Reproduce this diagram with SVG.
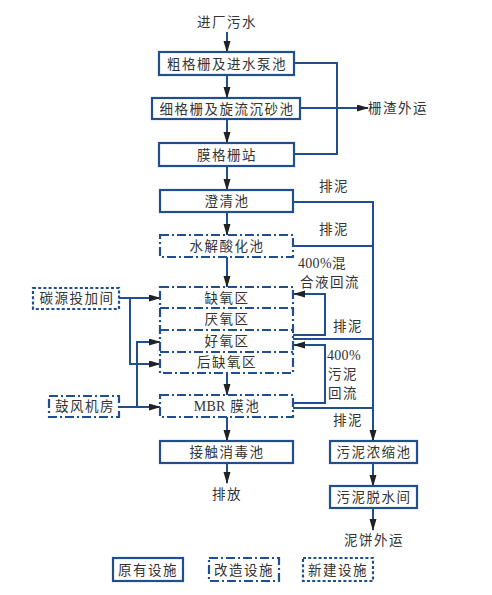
<svg xmlns="http://www.w3.org/2000/svg" width="492" height="595" viewBox="0 0 492 595">
<style>
.b{fill:#fff;stroke:#1f4f8f;stroke-width:2.2}
.dd{stroke-dasharray:9 3 2 3}
.dt{stroke-dasharray:3 2.2}
.w{fill:none;stroke:#1f4f8f;stroke-width:2}
.a{marker-end:url(#ah)}
text{font-family:"Noto Sans CJK SC","Liberation Serif",serif;font-size:13.5px;fill:#333;letter-spacing:1.5px;text-anchor:middle}
.l{text-anchor:start}
.m{font-family:"Liberation Serif","Noto Sans CJK SC",serif;font-size:14px;letter-spacing:0.3px}
</style>
<defs>
<marker id="ah" markerUnits="userSpaceOnUse" markerWidth="12" markerHeight="8" refX="11" refY="3.5" orient="auto">
<path d="M0,0 L12,3.5 L0,7 Z" fill="#222"/>
</marker>
</defs>
<rect width="492" height="595" fill="#fff"/>
<g id="connectors">
<path class="w a" d="M227,32V52"/>
<path class="w a" d="M227,75V98"/>
<path class="w a" d="M227,119V143"/>
<path class="w a" d="M227,166V190"/>
<path class="w a" d="M227,212V235"/>
<path class="w a" d="M227,257V287"/>
<path class="w a" d="M227,373V395"/>
<path class="w a" d="M227,417V441"/>
<path class="w a" d="M227,463V483"/>
<path class="w" d="M294,63H337V154H294"/>
<path class="w a" d="M300,108H368"/>
<path class="w a" d="M293,202H373V441"/>
<path class="w" d="M293,246H373"/>
<path class="w a" d="M293,335H325V294H294"/>
<path class="w" d="M293,339H373"/>
<path class="w a" d="M293,403H325V345H294"/>
<path class="w" d="M293,408H373"/>
<path class="w a" d="M373,463V486"/>
<path class="w a" d="M373,508V530"/>
<path class="w a" d="M119,298H160"/>
<path class="w a" d="M130,298V364H160"/>
<path class="w a" d="M119,407H160"/>
<path class="w a" d="M137,407V342H160"/>
</g>
<g id="inlet"><text x="227" y="27">进厂污水</text></g>
<g id="n1"><rect class="b" x="159" y="52" width="135" height="23"/><text x="227" y="68.5">粗格栅及进水泵池</text></g>
<g id="n2"><rect class="b" x="152" y="98" width="148" height="21"/><text x="227" y="113.5">细格栅及旋流沉砂池</text></g>
<g id="n3"><rect class="b" x="159" y="143" width="135" height="23"/><text x="227" y="159.5">膜格栅站</text></g>
<g id="screen-out"><text class="l" x="368" y="113">栅渣外运</text></g>
<g id="n4"><rect class="b" x="160" y="190" width="133" height="22"/><text x="227" y="206">澄清池</text></g>
<g id="n5"><rect class="b dd" x="160" y="235" width="133" height="22"/><text x="227" y="251">水解酸化池</text></g>
<g id="bio">
<rect class="b dd" x="160" y="287" width="133" height="86"/>
<path class="w dd" d="M160,308H293M160,330H293M160,352H293" stroke-width="2.2"/>
<text x="227" y="303">缺氧区</text>
<text x="227" y="324">厌氧区</text>
<text x="227" y="346">好氧区</text>
<text x="227" y="367">后缺氧区</text>
</g>
<g id="n6"><rect class="b dd" x="160" y="395" width="133" height="22"/><text x="227" y="411"><tspan class="m">MBR</tspan> 膜池</text></g>
<g id="n7"><rect class="b" x="160" y="441" width="133" height="22"/><text x="227" y="457">接触消毒池</text></g>
<g id="discharge"><text x="227" y="499">排放</text></g>
<g id="n8"><rect class="b" x="330" y="441" width="87" height="22"/><text x="374" y="457">污泥浓缩池</text></g>
<g id="n9"><rect class="b" x="330" y="486" width="87" height="22"/><text x="374" y="502">污泥脱水间</text></g>
<g id="cake"><text x="374" y="545">泥饼外运</text></g>
<g id="carbon"><rect class="b dt" x="33" y="288" width="86" height="21"/><text x="77" y="303">碳源投加间</text></g>
<g id="blower"><rect class="b dd" x="49" y="396" width="70" height="21"/><text x="85" y="411">鼓风机房</text></g>
<g id="labels">
<text x="334" y="191">排泥</text>
<text x="334" y="234">排泥</text>
<text class="l" x="298" y="268"><tspan class="m">400%</tspan>混</text>
<text class="l" x="300" y="287">合液回流</text>
<text x="348" y="331">排泥</text>
<text class="l m" x="327" y="360">400%</text>
<text class="l" x="328" y="379">污泥</text>
<text class="l" x="328" y="398">回流</text>
<text x="348" y="425">排泥</text>
</g>
<g id="legend">
<rect class="b" x="113" y="558" width="70" height="23"/><text x="148" y="574.5">原有设施</text>
<rect class="b dd" x="209" y="558" width="70" height="23"/><text x="244" y="574.5">改造设施</text>
<rect class="b dt" x="303" y="558" width="70" height="23"/><text x="338" y="574.5">新建设施</text>
</g>
</svg>
